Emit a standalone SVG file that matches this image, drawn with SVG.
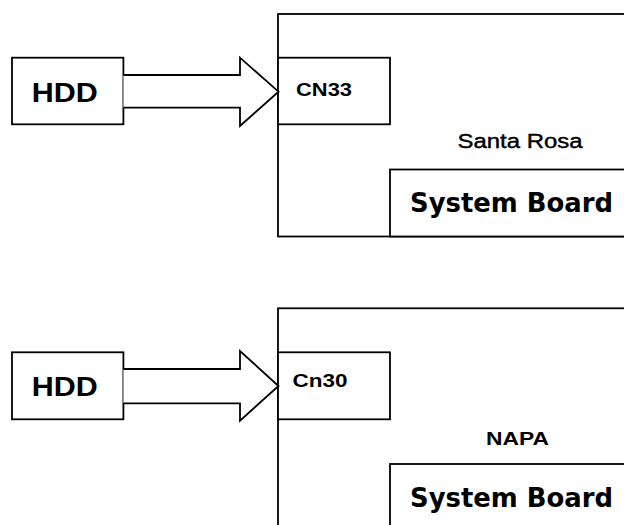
<svg xmlns="http://www.w3.org/2000/svg" width="624" height="525" viewBox="0 0 624 525">
<style>
.box{fill:#fff;stroke:#000;stroke-width:1.8}
.arrow{fill:#fff;stroke:#000;stroke-width:1.8;stroke-linejoin:miter}
.hdd{font-family:"Liberation Sans",Arial,sans-serif;font-weight:bold;font-size:28px;fill:#000}
.cn{font-family:"Liberation Sans",Arial,sans-serif;font-weight:bold;font-size:19px;fill:#000}
.chip{font-family:"Liberation Sans",Arial,sans-serif;font-size:20px;fill:#000;stroke:#000;stroke-width:0.4}
.sb{font-family:"DejaVu Sans",Verdana,sans-serif;font-weight:bold;font-size:27px;fill:#000}
</style>
<rect width="624" height="525" fill="#fff"/>
<!-- Top: Santa Rosa -->
<g id="board1">
<rect class="box" x="278" y="14" width="360" height="222.5"/>
<text class="chip" x="457.5" y="148.3" textLength="125" lengthAdjust="spacingAndGlyphs">Santa Rosa</text>
</g>
<g id="sysboard1">
<rect class="box" x="390" y="169.5" width="250" height="67"/>
<text class="sb" x="410" y="212.3" textLength="203" lengthAdjust="spacingAndGlyphs">System Board</text>
</g>
<g id="cn33">
<rect class="box" x="278" y="57.7" width="112" height="66.6"/>
<text class="cn" x="296" y="96" textLength="56" lengthAdjust="spacingAndGlyphs">CN33</text>
</g>
<g id="hdd1">
<rect class="box" x="12" y="57.7" width="111.4" height="66.6"/>
<text class="hdd" x="31.8" y="101.7" textLength="66" lengthAdjust="spacingAndGlyphs">HDD</text>
</g>
<!-- Bottom: NAPA -->
<g id="board2">
<rect class="box" x="278" y="308.3" width="360" height="230"/>
<text class="cn" x="486" y="445" textLength="63" lengthAdjust="spacingAndGlyphs">NAPA</text>
</g>
<g id="sysboard2">
<rect class="box" x="390" y="464" width="250" height="75"/>
<text class="sb" x="410" y="506.7" textLength="203" lengthAdjust="spacingAndGlyphs">System Board</text>
</g>
<g id="cn30">
<rect class="box" x="278" y="352.3" width="112" height="67"/>
<text class="cn" x="292.5" y="386.7" textLength="55" lengthAdjust="spacingAndGlyphs">Cn30</text>
</g>
<g id="hdd2">
<rect class="box" x="12" y="352.3" width="111.4" height="67"/>
<text class="hdd" x="31.8" y="396" textLength="66" lengthAdjust="spacingAndGlyphs">HDD</text>
</g>
<g id="connectors">
<path class="arrow" d="M123.4,75 L240,75 L240,57.7 L278.5,91.7 L240,126 L240,107.7 L123.4,107.7"/>
<path class="arrow" d="M123.4,369 L240,369 L240,351 L278.5,386 L240,420.7 L240,403.3 L123.4,403.3"/>
</g>
</svg>
